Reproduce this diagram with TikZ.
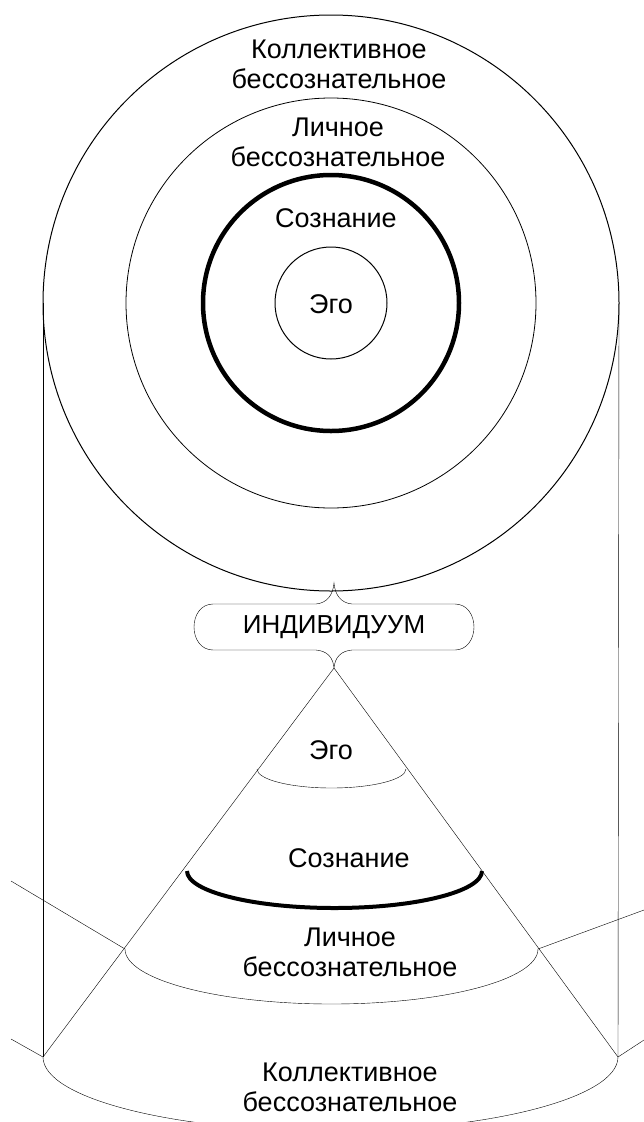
\documentclass[tikz,border=0pt]{standalone}
\usepackage{fontspec}
\setmainfont{Liberation Sans}
\begin{document}
\begin{tikzpicture}[x=1pt,y=-1pt,
  lbl/.style={align=center,font=\fontsize{27}{30}\selectfont,inner sep=0pt}]
\useasboundingbox (0,0) rectangle (644,1122);
\clip (0,0) rectangle (644,1122);

% top view: the circles
\coordinate (c) at (331,303);
\foreach \r in {56,288}
  \draw[line width=1] (c) circle (\r pt);
\draw[line width=0.8] (c) circle (205pt);
\draw[line width=4.5] (c) circle (128pt);

\node[lbl] (kol) at (339,64) {Коллективное\\бессознательное};
\node[lbl] (lich) at (338,142) {Личное\\бессознательное};
\node[lbl] (soz) at (336,218) {Сознание};
\node[lbl] (ego) at (331,304) {Эго};

% side lines
\coordinate (kl) at (43,1057);
\coordinate (kr) at (618,1057);
\draw (43,303) -- (kl);
\draw (619,303) -- (kr);

% the individual
\node[lbl,font=\fontsize{26}{30}\selectfont] (ind) at (334,627) {ИНДИВИДУУМ};
\coordinate (apex) at (334,668);
\draw (213,604) -- (316,604) .. controls (327,603) and (333,595) .. (334,583)
  .. controls (335,595) and (341,603) .. (352,604) -- (455,604)
  .. controls (467,604) and (474,615) .. (474,627)
  .. controls (474,639) and (467,650) .. (455,650) -- (352,650)
  .. controls (341,651) and (335,657) .. (apex)
  .. controls (333,657) and (327,651) .. (316,650) -- (213,650)
  .. controls (201,650) and (194,639) .. (194,627)
  .. controls (194,615) and (201,604) .. (213,604) -- cycle;

% side view: the cone
\coordinate (pl) at (125,949);
\coordinate (pr) at (538,949);
\draw (kl) -- (apex) -- (kr);
\draw (11,881) -- (pl);
\draw (pr) -- (644,910);
\draw (11,1039) -- (kl);
\draw (kr) -- (644,1040);

\draw (257,769) arc[start angle=180,end angle=360,x radius=74.5pt,y radius=19pt];
\draw[line width=4] (187,871) arc[start angle=180,end angle=360,x radius=147.5pt,y radius=37pt];
\draw (pl) arc[start angle=180,end angle=360,x radius=206.5pt,y radius=55pt];
\draw (kl) arc[start angle=180,end angle=360,x radius=287.5pt,y radius=74pt];

\node[lbl] (ego2) at (331,750) {Эго};
\node[lbl] (soz2) at (349,858) {Сознание};
\node[lbl] (lich2) at (350,952) {Личное\\бессознательное};
\node[lbl] (kol2) at (350,1087) {Коллективное\\бессознательное};
\end{tikzpicture}
\end{document}
